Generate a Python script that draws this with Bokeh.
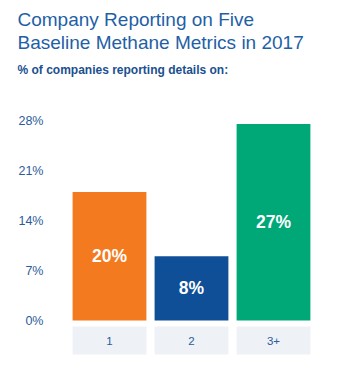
from bokeh.plotting import figure
from bokeh.models import FactorRange, Range1d, FixedTicker, Title, ColumnDataSource
from bokeh.core.properties import value
from bokeh.embed import file_html
from bokeh.resources import INLINE

categories = ["1", "2", "3+"]
bar_heights = [18.0, 9.0, 27.5]
bar_labels = ["20%", "8%", "27%"]
bar_colors = ["#f47a20", "#0e4f98", "#00a878"]
y_ticks = [0, 7, 14, 21, 28]
y_tick_labels = ["0%", "7%", "14%", "21%", "28%"]

FONT = "Liberation Sans"
TITLE_BLUE = "#1f5fa6"
LABEL_BLUE = "#2b5b9b"

src = ColumnDataSource(dict(
    cat=categories,
    h=bar_heights,
    mid=[v / 2 for v in bar_heights],
    lab=bar_labels,
    col=bar_colors,
))

p = figure(
    width=339, height=368,
    x_range=FactorRange(*categories, range_padding=0),
    y_range=Range1d(-5.32, 32.9),
    output_backend="svg", toolbar_location=None,
    min_border_left=68, min_border_right=25,
    min_border_bottom=10, min_border_top=85,
)
p.outline_line_color = None
p.grid.visible = False
p.xaxis.visible = False

# Titles (added from the plot outward)
sub = Title(text="% of companies reporting details on:", text_font=FONT,
            text_font_size="12px", text_font_style="bold", text_color="#1b4f8f",
            offset=-51, standoff=18)
p.add_layout(sub, "above")
t2 = Title(text="Baseline Methane Metrics in 2017", text_font=FONT,
           text_font_size="19px", text_font_style="normal", text_color=TITLE_BLUE,
           offset=-51, standoff=-3)
p.add_layout(t2, "above")
t1 = Title(text="Company Reporting on Five", text_font=FONT,
           text_font_size="19px", text_font_style="normal", text_color=TITLE_BLUE,
           offset=-51, standoff=4)
p.add_layout(t1, "above")

yax = p.yaxis[0]
yax.ticker = FixedTicker(ticks=y_ticks)
yax.major_label_overrides = {t: l for t, l in zip(y_ticks, y_tick_labels)}
yax.axis_line_color = None
yax.major_tick_line_color = None
yax.minor_tick_line_color = None
yax.major_tick_out = 0
yax.major_tick_in = 0
yax.major_label_standoff = 25
yax.major_label_text_font = FONT
yax.major_label_text_font_size = "12.5px"
yax.major_label_text_color = LABEL_BLUE
yax.major_label_text_baseline = "alphabetic"

# category boxes
p.vbar(x="cat", bottom=-4.76, top=-0.84, width=0.9, source=src,
       fill_color="#eef1f5", line_color=None)
p.text(x="cat", y=-2.8, text="cat", source=src, text_align="center",
       text_baseline="middle", text_font=value(FONT), text_font_size="11.5px",
       text_color=LABEL_BLUE)

# bars
p.vbar(x="cat", top="h", width=0.9, source=src, fill_color="col", line_color=None)
p.text(x="cat", y="mid", text="lab", source=src, text_align="center",
       text_baseline="middle", text_font=value(FONT), text_font_size="17.5px",
       text_font_style="bold", text_color="white")

open("out.html", "w").write(file_html(p, INLINE))
